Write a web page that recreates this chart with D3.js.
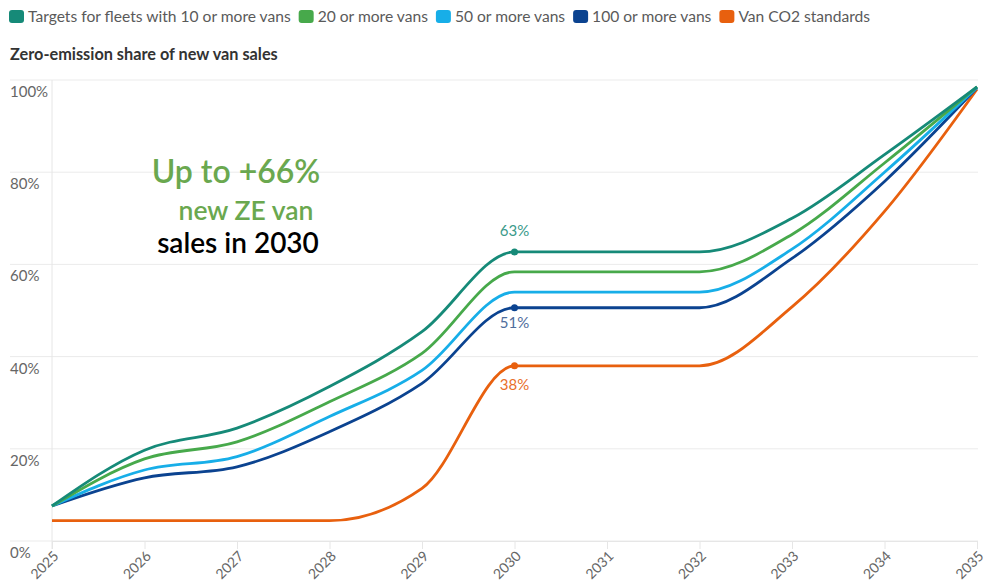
<!DOCTYPE html>
<html>
<head>
<meta charset="utf-8">
<script src="https://cdn.jsdelivr.net/npm/d3@7"></script>
<style>
  body { margin: 0; background: #fff; }
  svg { font-family: Lato, "Open Sans", sans-serif; }
</style>
</head>
<body>
<script>
// van targets chart

// data (percent)
var years = [2025, 2026, 2027, 2028, 2029, 2030, 2031, 2032, 2033, 2034, 2035];
var fleet10 = [7.6, 19.7, 24.5, 33.5, 45.4, 62.7, 62.7, 62.7, 70.0, 83.8, 98.5];
var fleet20 = [7.6, 17.8, 21.5, 30.2, 40.7, 58.4, 58.4, 58.4, 66.5, 82.0, 98.5];
var fleet50 = [7.6, 15.4, 18.3, 27.0, 37.0, 54.0, 54.0, 54.0, 63.3, 80.0, 98.4];
var fleet100 = [7.6, 13.7, 16.1, 23.7, 34.2, 50.6, 50.6, 50.6, 61.3, 78.0, 98.3];
var co2Standards = [4.4, 4.4, 4.4, 4.4, 11.4, 38.0, 38.0, 38.0, 50.8, 71.5, 98.0];

var seriesNames = ["Targets for fleets with 10 or more vans", "20 or more vans", "50 or more vans", "100 or more vans", "Van CO2 standards"];
var seriesColors = ["#168a78", "#47a94b", "#17aee8", "#0b4390", "#e8600e"];
var yTicks = [0, 20, 40, 60, 80, 100];

//labelled points (series index, year)
var labelled = [
  {s: 0, year: 2030, text: "63%", color: "#3a9a8a", dy: -16},
  {s: 3, year: 2030, text: "51%", color: "#4f6e9c", dy: 20},
  {s: 4, year: 2030, text: "38%", color: "#e8702a", dy: 24}
];

var width = 986, height = 583;

var svg = d3.select("body").append("svg")
  .attr("width", width)
  .attr("height", height);

var x = d3.scaleLinear().domain([2025, 2035]).range([52, 977]);
var y = d3.scaleLinear().domain([0, 100]).range([541, 80]);

var seriesData = [fleet10, fleet20, fleet50, fleet100, co2Standards];

//legend
var legend = svg.append("g").attr("class", "legend");
var lx = 9;
seriesNames.forEach(function(name, i){
  legend.append("rect")
    .attr("x", lx).attr("y", 10)
    .attr("width", 15).attr("height", 13)
    .attr("rx", 3)
    .attr("fill", seriesColors[i]);
  var t = legend.append("text")
    .attr("x", lx + 19).attr("y", 22)
    .attr("font-size", 15.6)
    .attr("fill", "#5a5a5a")
    .text(name);
  lx += 19 + t.node().getComputedTextLength() + 8;
});

//chart title
svg.append("text")
  .attr("x", 10).attr("y", 60)
  .attr("font-size", 16.3)
  .attr("font-weight", "bold")
  .attr("fill", "#333")
  .text("Zero-emission share of new van sales");

//gridlines + y labels
var grid = svg.append("g");
grid.selectAll("line")
  .data(yTicks)
  .enter().append("line")
  .attr("x1", 10).attr("x2", 978)
  .attr("y1", function(d){ return y(d); })
  .attr("y2", function(d){ return y(d); })
  .attr("stroke", "#ebebeb")
  .attr("stroke-width", 1);
grid.selectAll("text")
  .data(yTicks)
  .enter().append("text")
  .attr("x", 10)
  .attr("y", function(d){ return y(d) + 17; })
  .attr("font-size", 15)
  .attr("fill", "#666")
  .text(function(d){ return d + "%"; });

//left axis line
svg.append("line")
  .attr("x1", x(2025)).attr("x2", x(2025))
  .attr("y1", y(100)).attr("y2", y(0) + 8)
  .attr("stroke", "#e6e6e6");

//x axis
var xAxis = d3.axisBottom(x)
  .tickValues(years)
  .tickFormat(d3.format("d"))
  .tickSize(8)
  .tickSizeOuter(0);

var gx = svg.append("g")
  .attr("transform", "translate(0," + y(0) + ")")
  .call(xAxis);
gx.select(".domain").attr("stroke", "#e6e6e6");
gx.selectAll(".tick line").attr("stroke", "#e6e6e6");
gx.selectAll(".tick text")
  .attr("font-family", "Lato, sans-serif")
  .attr("font-size", 14)
  .attr("fill", "#666")
  .attr("text-anchor", "end")
  .attr("dy", 0)
  .attr("y", 0)
  .attr("transform", "translate(7,16) rotate(-45)");

//lines
var line = d3.line()
  .x(function(d, i){ return x(years[i]); })
  .y(function(d){ return y(d); })
  .curve(d3.curveMonotoneX);

//draw in reverse so the teal one ends on top
svg.append("g").selectAll("path")
  .data(seriesData.map(function(d, i){ return {vals: d, i: i}; }).reverse())
  .enter().append("path")
  .attr("d", function(d){ return line(d.vals); })
  .attr("fill", "none")
  .attr("stroke", function(d){ return seriesColors[d.i]; })
  .attr("stroke-width", 2.8)
  .attr("stroke-linejoin", "round");

//dots and labels at 2030
labelled.forEach(function(p){
  var v = seriesData[p.s][years.indexOf(p.year)];
  svg.append("circle")
    .attr("cx", x(p.year)).attr("cy", y(v))
    .attr("r", 3.5)
    .attr("fill", seriesColors[p.s]);
  svg.append("text")
    .attr("x", x(p.year)).attr("y", y(v) + p.dy)
    .attr("text-anchor", "middle")
    .attr("font-size", 15)
    .attr("fill", p.color)
    .text(p.text);
});

//annotation
var note = svg.append("g").attr("text-anchor", "middle");
note.append("text")
  .attr("x", 236).attr("y", 183)
  .attr("font-size", 32)
  .attr("font-weight", 600)
  .attr("fill", "#6aa84f")
  .text("Up to +66%");
note.append("text")
  .attr("x", 246).attr("y", 220)
  .attr("font-size", 26.5)
  .attr("font-weight", 600)
  .attr("fill", "#6aa84f")
  .text("new ZE van");
note.append("text")
  .attr("x", 238).attr("y", 253)
  .attr("font-size", 28)
  .attr("font-weight", 600)
  .attr("fill", "#000")
  .text("sales in 2030");

</script>
</body>
</html>
